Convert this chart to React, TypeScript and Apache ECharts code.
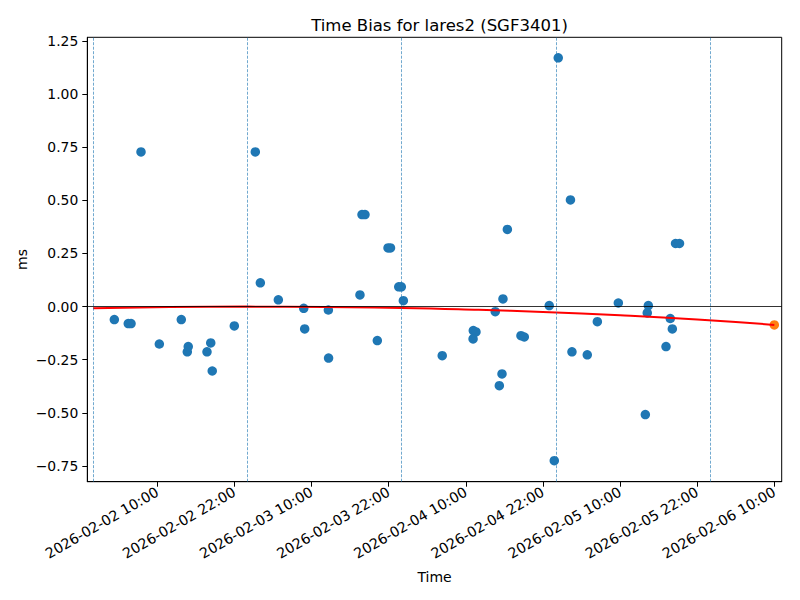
import React, { useEffect, useRef } from "react";
import * as echarts from "echarts";

// Observations (UTC time, bias in ms)
const obsTimes = [
  "2026-02-02 03:19", "2026-02-02 05:29", "2026-02-02 05:55", "2026-02-02 07:28",
  "2026-02-02 10:19", "2026-02-02 13:44", "2026-02-02 14:40", "2026-02-02 14:49",
  "2026-02-02 17:44", "2026-02-02 18:19", "2026-02-02 18:33", "2026-02-02 21:59",
  "2026-02-03 01:15", "2026-02-03 02:02", "2026-02-03 04:50", "2026-02-03 08:47",
  "2026-02-03 08:56", "2026-02-03 12:37", "2026-02-03 12:39", "2026-02-03 17:32",
  "2026-02-03 17:51", "2026-02-03 18:19", "2026-02-03 20:14", "2026-02-03 21:54",
  "2026-02-03 22:17", "2026-02-03 23:34", "2026-02-03 23:58", "2026-02-04 00:17",
  "2026-02-04 06:20", "2026-02-04 11:10", "2026-02-04 11:35", "2026-02-04 11:08",
  "2026-02-04 14:35", "2026-02-04 15:13", "2026-02-04 15:38", "2026-02-04 15:47",
  "2026-02-04 16:28", "2026-02-04 18:35", "2026-02-04 19:06", "2026-02-04 22:59",
  "2026-02-04 23:46", "2026-02-05 00:23", "2026-02-05 02:17", "2026-02-05 02:31",
  "2026-02-05 04:54", "2026-02-05 06:28", "2026-02-05 09:44", "2026-02-05 13:56",
  "2026-02-05 14:14", "2026-02-05 14:24", "2026-02-05 17:09", "2026-02-05 17:49",
  "2026-02-05 18:08", "2026-02-05 18:38", "2026-02-05 19:15",
];
const obsBias = [
  -0.061, -0.080, -0.080, 0.728,
  -0.176, -0.061, -0.213, -0.188,
  -0.213, -0.171, -0.303, -0.091,
  0.728, 0.112, 0.032, -0.008,
  -0.105, -0.016, -0.242, 0.055,
  0.433, 0.433, -0.160, 0.276,
  0.276, 0.093, 0.093, 0.028,
  -0.231, -0.113, -0.119, -0.152,
  -0.024, -0.372, -0.317, 0.036,
  0.363, -0.137, -0.143, 0.005,
  -0.725, 1.171, 0.502, -0.213,
  -0.227, -0.071, 0.017, -0.508,
  -0.030, 0.005, -0.188, -0.056,
  -0.105, 0.297, 0.297,
];

// Fitted trend
const fitTimes = [
  "2026-02-02 00:00", "2026-02-02 12:00", "2026-02-03 00:00", "2026-02-03 12:00",
  "2026-02-04 00:00", "2026-02-04 12:00", "2026-02-04 22:00", "2026-02-05 10:00",
  "2026-02-05 22:00", "2026-02-06 10:00",
];
const fitBias = [-0.008, -0.002, 0.0, -0.002, -0.006, -0.015, -0.025, -0.041, -0.061, -0.086];

// Prediction
const predTimes = ["2026-02-06 10:00"];
const predBias = [-0.086];

// Day boundaries
const dayLines = [
  "2026-02-02 00:00", "2026-02-03 00:00", "2026-02-04 00:00", "2026-02-05 00:00", "2026-02-06 00:00",
];

// Axis ticks
const xTickLabels = [
  "2026-02-02 10:00", "2026-02-02 22:00", "2026-02-03 10:00", "2026-02-03 22:00",
  "2026-02-04 10:00", "2026-02-04 22:00", "2026-02-05 10:00", "2026-02-05 22:00",
  "2026-02-06 10:00",
];
const yTicks = [-0.75, -0.5, -0.25, 0, 0.25, 0.5, 0.75, 1.0, 1.25];

const ORIGIN = Date.UTC(2026, 1, 2, 10, 0);
function toH(s: string): number {
  const [d, t] = s.split(" ");
  const [Y, M, D] = d.split("-").map(Number);
  const [hh, mm] = t.split(":").map(Number);
  return (Date.UTC(Y, M - 1, D, hh, mm) - ORIGIN) / 3.6e6;
}
function p2(n: number) {
  return n < 10 ? "0" + n : "" + n;
}
function fmt(h: number): string {
  const dt = new Date(ORIGIN + Math.round(h * 3.6e6));
  return (
    dt.getUTCFullYear() + "-" + p2(dt.getUTCMonth() + 1) + "-" + p2(dt.getUTCDate()) +
    " " + p2(dt.getUTCHours()) + ":" + p2(dt.getUTCMinutes())
  );
}

const FONT = "DejaVu Sans";

export default function App() {
  const ref = useRef<HTMLDivElement>(null);
  useEffect(() => {
    if (!ref.current) return;
    const chart = echarts.init(ref.current, null, { renderer: "svg" });
    const left = 87.3, right = 18.3, top = 37.3, bottom = 118.3;
    const xTicks = xTickLabels.map(toH);
    chart.setOption({
      animation: false,
      backgroundColor: "#ffffff",
      title: {
        text: "Time Bias for lares2 (SGF3401)",
        left: (left + (800 - right)) / 2,
        textAlign: "center",
        top: 12,
        textStyle: { fontFamily: FONT, fontSize: 16.5, fontWeight: "normal", color: "#000" },
      },
      graphic: [
        {
          type: "text",
          x: 22,
          y: (top + (600 - bottom)) / 2,
          rotation: Math.PI / 2,
          style: { text: "ms", fontFamily: FONT, fontSize: 14, fill: "#000", align: "center", verticalAlign: "middle" },
        },
        {
          type: "text",
          x: (left + (800 - right)) / 2,
          y: 577,
          style: { text: "Time", fontFamily: FONT, fontSize: 14, fill: "#000", align: "center", verticalAlign: "middle" },
        },
      ],
      grid: {
        left, right, top, bottom,
        show: true,
        borderColor: "#000",
        borderWidth: 1,
        backgroundColor: "transparent",
      },
      xAxis: {
        type: "value",
        min: -10.89,
        max: 97.15,
        splitLine: { show: false },
        axisLine: { show: true, onZero: false, lineStyle: { color: "#000", width: 1 } },
        axisTick: { show: true, inside: false, length: 5, customValues: xTicks, lineStyle: { color: "#000" } },
        axisLabel: {
          customValues: xTicks,
          formatter: (v: number) => fmt(v),
          rotate: 30,
          margin: 9,
          fontFamily: FONT,
          fontSize: 14.2,
          color: "#000",
        },
      },
      yAxis: {
        type: "value",
        min: -0.824,
        max: 1.2674,
        splitLine: { show: false },
        axisLine: { show: true, onZero: false, lineStyle: { color: "#000", width: 1 } },
        axisTick: { show: true, inside: false, length: 5, customValues: yTicks, lineStyle: { color: "#000" } },
        axisLabel: {
          customValues: yTicks,
          formatter: (v: number) => v.toFixed(2).replace("-", "\u2212"),
          margin: 9,
          fontFamily: FONT,
          fontSize: 13.9,
          color: "#000",
        },
      },
      series: [
        {
          type: "line",
          data: [],
          silent: true,
          markLine: {
            silent: true,
            symbol: "none",
            label: { show: false },
            animation: false,
            data: dayLines.map((t) => ({
              xAxis: toH(t),
              lineStyle: { color: "#1f77b4", width: 0.8, type: [3, 1.5], opacity: 0.8 },
            })),
          },
        },
        {
          type: "line",
          data: [],
          silent: true,
          markLine: {
            silent: true,
            symbol: "none",
            label: { show: false },
            animation: false,
            data: [{ yAxis: 0, lineStyle: { color: "#000", width: 0.8, type: "solid" } }],
          },
        },
        {
          type: "scatter",
          data: obsTimes.map((t, i) => [toH(t), obsBias[i]]),
          symbol: "circle",
          symbolSize: 9.5,
          itemStyle: { color: "#1f77b4", opacity: 1 },
          silent: true,
        },
        {
          type: "line",
          data: fitTimes.map((t, i) => [toH(t), fitBias[i]]),
          smooth: true,
          showSymbol: false,
          lineStyle: { color: "#ff0000", width: 2 },
          itemStyle: { color: "#ff0000" },
          silent: true,
        },
        {
          type: "scatter",
          data: predTimes.map((t, i) => [toH(t), predBias[i]]),
          symbol: "circle",
          symbolSize: 9.5,
          itemStyle: { color: "#ff7f0e", opacity: 1 },
          silent: true,
        },
      ],
    });
    return () => chart.dispose();
  }, []);
  return (
    <div
      ref={ref}
      style={{ position: "fixed", left: 0, top: 0, width: 800, height: 600, background: "#fff" }}
    />
  );
}
